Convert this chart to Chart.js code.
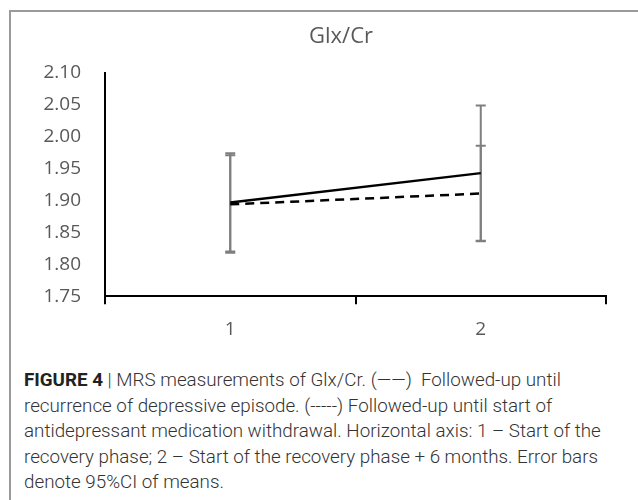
<!DOCTYPE html>
<html>
<head>
<meta charset="utf-8">
<script src="https://cdn.jsdelivr.net/npm/chart.js@4/dist/chart.umd.min.js"></script>
<style>
  body { margin: 0; background: #fff; width: 638px; height: 500px; overflow: hidden; position: relative; }
  #frame { position: absolute; left: 9px; top: 10px; width: 640px; height: 500px;
           border-top: 2px solid #9a9a9a; border-left: 2px solid #9a9a9a; }
  #cc { position: absolute; left: 10px; top: 11px; }
  #caption { position: absolute; left: 24px; top: 368px; width: 610px;
             font-family: Roboto, "Liberation Sans", sans-serif; font-weight: 300;
             font-size: 18.8px; line-height: 25.5px; color: #333; white-space: nowrap; }
  #caption b { font-weight: 700; color: #222; }
</style>
</head>
<body>
<div id="frame"></div>
<canvas id="cc" width="632" height="345"></canvas>
<div id="caption">
<b>FIGURE 4</b> | MRS measurements of Glx/Cr. (——)&nbsp; Followed-up until<br>
recurrence of depressive episode. (-----) Followed-up until start of<br>
antidepressant medication withdrawal. Horizontal axis: 1 – Start of the<br>
recovery phase; 2 – Start of the recovery phase + 6 months. Error bars<br>
denote 95%CI of means.
</div>
<script>
// time points
let labels = ["1", "2"];

// followed-up until recurrence (solid)
let recurMean = [1.897, 1.943];
let recurLow = [1.820, 1.837];
let recurHigh = [1.974, 2.049];

// followed-up until medication withdrawal (dashed)
let withdrawMean = [1.894, 1.911];
let withdrawLow = [1.818, 1.836];
let withdrawHigh = [1.971, 1.986];

let yTicks = [1.75, 1.80, 1.85, 1.90, 1.95, 2.00, 2.05, 2.10];

// draws the 95%CI whiskers from the dataset's low/high arrays
const errorBars = {
	id: "errorBars",
	beforeDatasetsDraw(chart) {
		const ctx = chart.ctx;
		const x = chart.scales.x;
		const y = chart.scales.y;
		ctx.save();
		ctx.strokeStyle = "#7f7f7f";
		ctx.lineWidth = 2;
		chart.data.datasets.forEach(function(ds) {
			for (let i = 0; i < ds.data.length; i++) {
				let px = x.getPixelForValue(i);
				let top = y.getPixelForValue(ds.high[i]);
				let bot = y.getPixelForValue(ds.low[i]);
				ctx.beginPath();
				ctx.moveTo(px, top);
				ctx.lineTo(px, bot);
				ctx.moveTo(px - 5, top);
				ctx.lineTo(px + 5, top);
				ctx.moveTo(px - 5, bot);
				ctx.lineTo(px + 5, bot);
				ctx.stroke();
			}
		});
		ctx.restore();
	}
};

let chartId = document.getElementById("cc");
let chart = new Chart(chartId, {
	type: "line",
	data: {
		labels: labels,
		datasets: [
			{
				label: "Recurrence",
				data: recurMean,
				low: recurLow,
				high: recurHigh,
				borderColor: "#000",
				borderWidth: 2.5,
				pointRadius: 0,
				fill: false,
				tension: 0
			},
			{
				label: "Withdrawal",
				data: withdrawMean,
				low: withdrawLow,
				high: withdrawHigh,
				borderColor: "#000",
				borderWidth: 2.5,
				borderDash: [9, 6],
				pointRadius: 0,
				fill: false,
				tension: 0
			}
		]
	},
	plugins: [errorBars],
	options: {
		responsive: false,
		animation: false,
		layout: { padding: { left: 30, right: 0, top: 0, bottom: 1 } },
		plugins: {
			legend: { display: false },
			tooltip: { enabled: false },
			title: {
				display: true,
				text: "Glx/Cr",
				color: "#595959",
				font: { family: "Open Sans", size: 22, weight: "normal" },
				padding: { top: 13, bottom: 22.6 }
			}
		},
		scales: {
			x: {
				offset: true,
				grid: { display: true, offset: true, drawOnChartArea: false, drawTicks: true, tickLength: 8, color: "#000", lineWidth: 2 },
				border: { display: true, color: "#000", width: 2 },
				ticks: { color: "#595959", font: { family: "Open Sans", size: 19 }, padding: 14 }
			},
			y: {
				min: 1.75,
				max: 2.10,
				afterFit: function(scale) { scale.width = 65; },
				afterBuildTicks: function(scale) { scale.ticks = yTicks.map(function(v) { return { value: v }; }); },
				grid: { display: false, drawTicks: false },
				border: { display: true, color: "#000", width: 2 },
				ticks: {
					color: "#595959",
					font: { family: "Open Sans", size: 19 },
					padding: 24,
					callback: function(v) { return Number(v).toFixed(2); }
				}
			},
			// empty right-hand axis: only reserves the blank strip right of the plot
			yRight: {
				position: "right",
				display: true,
				afterFit: function(scale) { scale.width = 36; },
				grid: { display: false, drawTicks: false },
				border: { display: false },
				ticks: { display: false }
			}
		}
	}
});
</script>
</body>
</html>
